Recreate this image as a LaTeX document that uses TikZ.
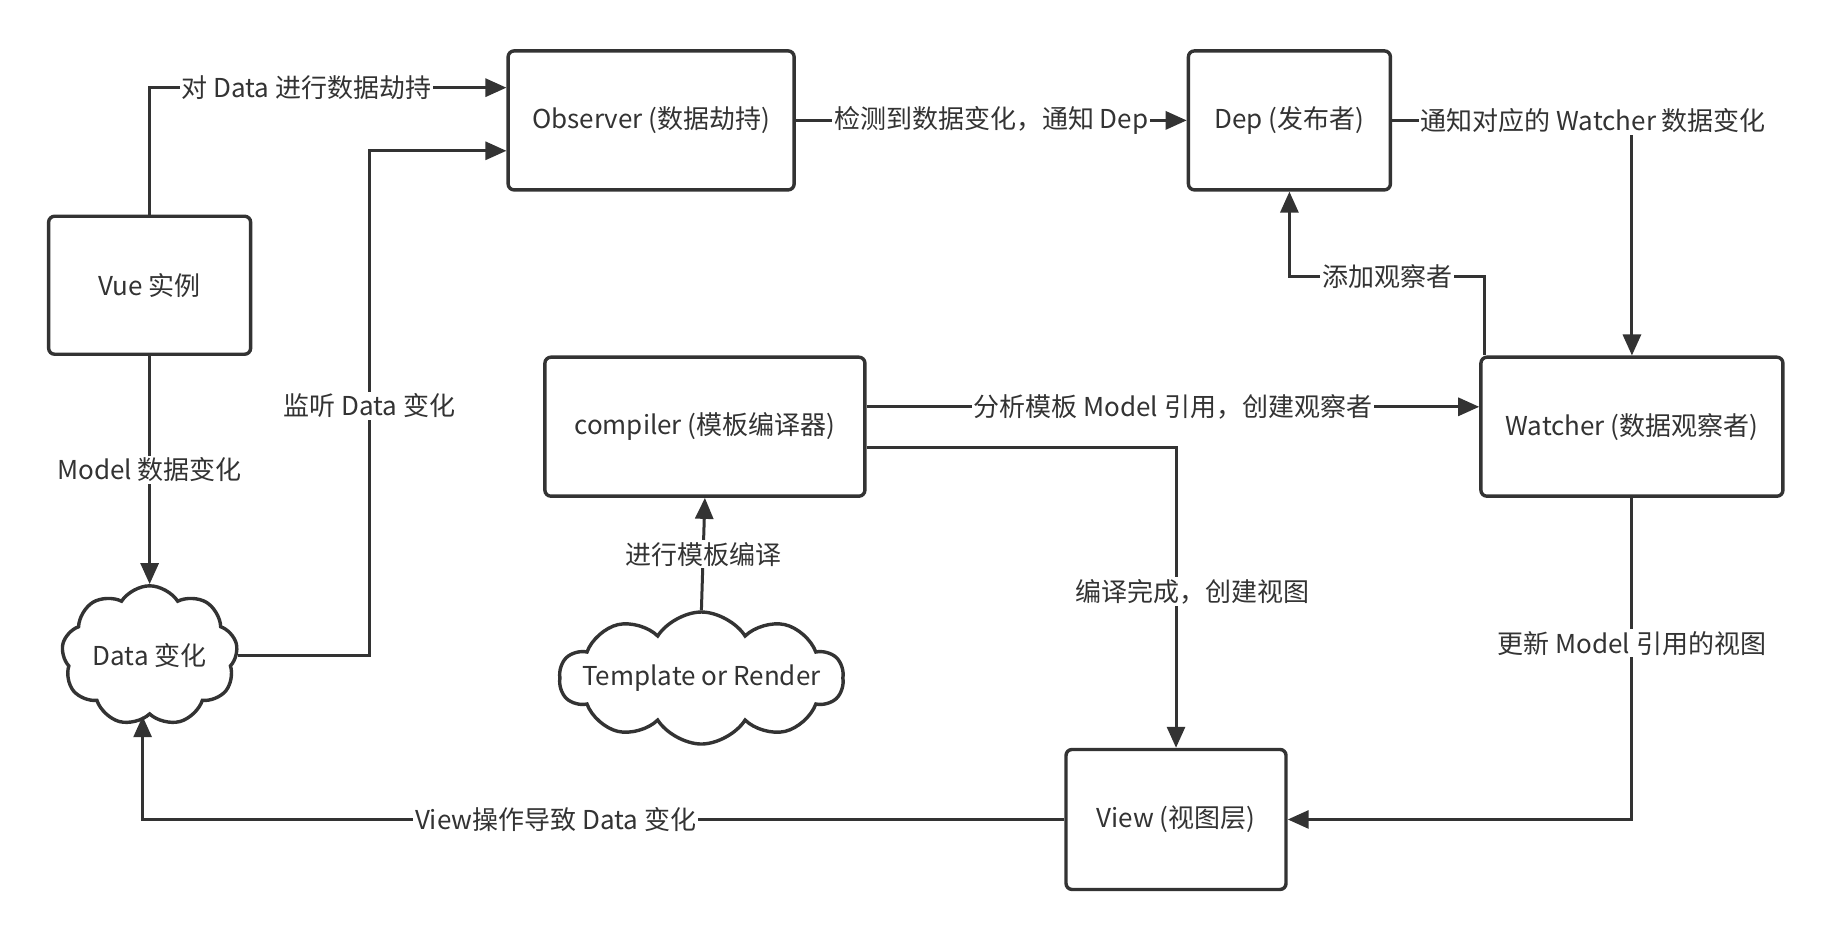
\documentclass[tikz,border=0pt]{standalone}
\usepackage{fontspec}
\setmainfont{Noto Sans CJK SC}
\usetikzlibrary{shapes.symbols,arrows.meta,calc}
\definecolor{ink}{HTML}{333333}
\begin{document}
\begin{tikzpicture}[x=0.5845pt,y=-0.5845pt,
  font=\fontsize{13}{15}\selectfont,
  box/.style={draw=ink, line width=1.7pt, rounded corners=3pt, fill=white, text=ink, align=center, inner sep=0pt},
  cl/.style={cloud, draw=ink, line width=1.7pt, cloud puffs=9, cloud puff arc=115, cloud ignores aspect, fill=white, text=ink, inner sep=0pt},
  arr/.style={draw=ink, line width=1.5pt, -{Triangle[length=10.5pt,width=9pt]}},
  lbl/.style={fill=white, text=ink, inner sep=1pt}]
\useasboundingbox (0,0) rectangle (1568,803);
% nodes
\node[box, minimum width=101pt, minimum height=69pt] (vue) at (128,244) {Vue 实例};
\node[box, minimum width=143pt, minimum height=69.5pt] (obs) at (557,103) {Observer (数据劫持)};
\node[box, minimum width=101pt, minimum height=69.5pt] (dep) at (1103,103) {Dep (发布者)};
\node[box, minimum width=160pt, minimum height=69.5pt] (comp) at (603,365) {compiler (模板编译器)};
\node[box, minimum width=151pt, minimum height=69.5pt] (wat) at (1396,365) {Watcher (数据观察者)};
\node[box, minimum width=110pt, minimum height=70pt] (view) at (1006,701) {View (视图层)};
\node[cl, minimum width=88pt, minimum height=70pt] (data) at (128,561) {Data 变化};
\node[cl, minimum width=142pt, minimum height=66pt, inner sep=-7pt, cloud puffs=10] (tmpl) at (600,580) {Template or Render};
% waypoints
\coordinate (w2) at (316,0);
% connectors
\draw[arr] (vue.north) |- ($(obs.west)+(0,-28)$) node[lbl, pos=0.72] {对 Data 进行数据劫持};
\draw[arr] (data.east) -- (data.east -| w2) |- ($(obs.west)+(0,26)$);
\node[lbl] at (316,347) {监听 Data 变化};
\draw[arr] (obs) -- (dep) node[lbl, midway] {检测到数据变化，通知 Dep};
\draw[arr] (dep.east) -| (wat.north);
\node[lbl] at (1363,103) {通知对应的 Watcher 数据变化};
\draw[arr] ($(wat.north)+(-126,0)$) |- ($(dep.south)+(0,73)$) node[lbl, pos=0.75] {添加观察者} -- (dep.south);
\draw[arr] ($(comp.east)+(0,-17)$) -- ($(wat.west)+(0,-17)$) node[lbl, midway] {分析模板 Model 引用，创建观察者};
\draw[arr] ($(comp.east)+(0,18)$) -| (view.north) node[lbl, pos=0.74, xshift=8pt] {编译完成，创建视图};
\draw[arr] (wat.south) |- (view.east) node[lbl, pos=0.226] {更新 Model 引用的视图};
\draw[arr] (view.west) -| ($(data.south)+(-6,0)$) node[lbl, pos=0.276] {View操作导致 Data 变化};
\draw[arr] (vue.south) -- (data.north) node[lbl, midway] {Model 数据变化};
\draw[arr] (tmpl.north) -- (comp.south) node[lbl, midway] {进行模板编译};
\end{tikzpicture}
\end{document}
